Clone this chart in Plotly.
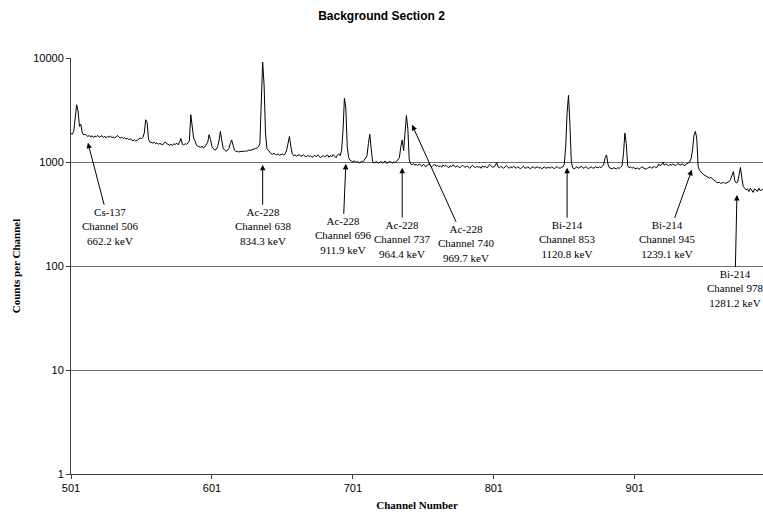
import plotly.graph_objects as go
import math

# ---- data ----
start_channel = 501
counts = [
    # 501-510
    1880, 1850, 2000, 2900, 3550, 3100, 2200, 2300, 1900, 1820,
    # 511-520
    1850, 1800, 1760, 1800, 1740, 1790, 1720, 1780, 1750, 1800,
    # 521-530
    1730, 1760, 1790, 1720, 1770, 1700, 1760, 1730, 1780, 1710,
    # 531-540
    1740, 1700, 1760, 1800, 1730, 1700, 1740, 1680, 1710, 1660,
    # 541-550
    1690, 1640, 1670, 1620, 1600, 1640, 1590, 1620, 1660, 1700,
    # 551-560
    1680, 1720, 1900, 2550, 2400, 1650, 1560, 1540, 1520, 1550,
    # 561-570
    1500, 1530, 1480, 1510, 1490, 1460, 1520, 1560, 1500, 1470,
    # 571-580
    1450, 1480, 1440, 1500, 1470, 1520, 1460, 1560, 1680, 1480,
    # 581-590
    1460, 1500, 1480, 1520, 1600, 2850, 2300, 1700, 1600, 1450,
    # 591-600
    1420, 1400, 1380, 1420, 1360, 1400, 1460, 1550, 1830, 1650,
    # 601-610
    1400, 1340, 1300, 1320, 1400, 1600, 1970, 1600, 1350, 1300,
    # 611-620
    1270, 1290, 1350, 1500, 1630, 1450, 1300, 1260, 1270, 1250,
    # 621-630
    1260, 1250, 1270, 1260, 1280, 1270, 1300, 1290, 1310, 1320,
    # 631-640
    1330, 1350, 1360, 1400, 1500, 3500, 9150, 5500, 1900, 1350,
    # 641-650
    1300, 1230, 1200, 1190, 1210, 1180, 1170, 1200, 1160, 1180,
    # 651-660
    1190, 1170, 1200, 1300, 1550, 1760, 1400, 1200, 1150, 1170,
    # 661-670
    1140, 1160, 1180, 1130, 1150, 1170, 1140, 1120, 1160, 1130,
    # 671-680
    1150, 1110, 1130, 1160, 1120, 1170, 1140, 1100, 1130, 1150,
    # 681-690
    1120, 1140, 1170, 1110, 1150, 1120, 1180, 1140, 1100, 1160,
    # 691-700
    1200, 1150, 1300, 2000, 4100, 3300, 1400, 1100, 1040, 1020,
    # 701-710
    1000, 1030, 990, 1010, 1000, 980, 1020, 1000, 1040, 1080,
    # 711-720
    1150, 1500, 1850, 1350, 1000, 980, 1000, 1010, 970, 990,
    # 721-730
    1010, 980, 1000, 1020, 970, 990, 1010, 1000, 975, 1000,
    # 731-740
    990, 1010, 1050, 1100, 1400, 1630, 1280, 1800, 2800, 2100,
    # 741-750
    1050, 960, 940, 970, 930, 950, 920, 960, 940, 910,
    # 751-760
    950, 930, 900, 940, 960, 920, 900, 930, 950, 910,
    # 761-770
    930, 900, 920, 890, 940, 910, 930, 900, 880, 920,
    # 771-780
    900, 940, 910, 890, 920, 900, 880, 910, 930, 900,
    # 781-790
    890, 920, 900, 870, 910, 930, 900, 880, 910, 890,
    # 791-800
    900, 870, 920, 890, 910, 880, 900, 950, 920, 890,
    # 801-810
    900, 920, 990, 900, 880, 910, 890, 870, 900, 920,
    # 811-820
    890, 870, 900, 880, 910, 890, 870, 900, 880, 860,
    # 821-830
    890, 910, 880, 870, 900, 880, 860, 890, 900, 870,
    # 831-840
    880, 900, 870, 890, 860, 880, 900, 870, 880, 890,
    # 841-850
    870, 900, 880, 860, 890, 900, 880, 870, 890, 900,
    # 851-860
    950, 1400, 3000, 4370, 2300, 1000, 880, 860, 880, 900,
    # 861-870
    870, 890, 910, 880, 870, 900, 890, 860, 880, 900,
    # 871-880
    880, 870, 900, 890, 880, 900, 880, 910, 950, 1100,
    # 881-890
    1170, 950, 880, 870, 860, 880, 870, 860, 880, 870,
    # 891-900
    890, 920, 1200, 1900, 1500, 920, 880, 900, 870, 890,
    # 901-910
    870, 860, 880, 850, 870, 900, 880, 860, 850, 870,
    # 911-920
    880, 900, 870, 890, 910, 880, 900, 960, 920, 940,
    # 921-930
    1000, 930, 960, 940, 920, 950, 930, 960, 940, 920,
    # 931-940
    950, 970, 930, 940, 960, 920, 940, 950, 970, 1000,
    # 941-950
    1080, 1300, 1800, 1970, 1700, 900, 830, 800, 770, 750,
    # 951-960
    740, 730, 720, 700, 710, 690, 670, 650, 640, 630,
    # 961-970
    640, 620, 630, 640, 620, 630, 640, 650, 680, 760,
    # 971-980
    810, 660, 630, 640, 760, 885, 700, 580, 560, 540,
    # 981-992
    550, 520, 560, 530, 510, 550, 540, 520, 560, 530, 540, 550,
]
channels = list(range(start_channel, start_channel + len(counts)))

x_tick_values = [501, 601, 701, 801, 901]
x_tick_labels = ["501", "601", "701", "801", "901"]
y_tick_values = [1, 10, 100, 1000, 10000]
y_tick_labels = ["1", "10", "100", "1000", "10000"]

# peak labels
peak_texts = [
    "Cs-137<br>Channel 506<br>662.2 keV",
    "Ac-228<br>Channel 638<br>834.3 keV",
    "Ac-228<br>Channel 696<br>911.9 keV",
    "Ac-228<br>Channel 737<br>964.4 keV",
    "Ac-228<br>Channel 740<br>969.7 keV",
    "Bi-214<br>Channel 853<br>1120.8 keV",
    "Bi-214<br>Channel 945<br>1239.1 keV",
    "Bi-214<br>Channel 978<br>1281.2 keV",
]
peak_tip_channel = [513, 637, 696, 736, 743, 853, 941.5, 973.5]
peak_tip_counts = [1530, 940, 960, 880, 2275, 880, 840, 482]
peak_text_dx = [22, 0, -3, 0, 54, 0, -25, -2]
peak_text_dy = [84, 62, 72, 72, 119, 72, 70, 94]

fig = go.Figure()
fig.add_trace(go.Scatter(
    x=channels, y=counts, mode="lines",
    line=dict(color="#000000", width=1),
    hoverinfo="x+y", showlegend=False,
))

for t, cx, cy, dx, dy in zip(peak_texts, peak_tip_channel, peak_tip_counts, peak_text_dx, peak_text_dy):
    fig.add_annotation(
        x=cx, y=math.log10(cy), xref="x", yref="y",
        text=t, showarrow=True, ax=dx, ay=dy,
        arrowhead=2, arrowsize=1.1, arrowwidth=1, arrowcolor="#000000",
        font=dict(family="Liberation Serif, Times New Roman, serif", size=11, color="#000000"),
        align="center", borderpad=1,
    )

fig.update_layout(
    width=763, height=518,
    margin=dict(l=71, r=0, t=58, b=44),
    paper_bgcolor="#ffffff", plot_bgcolor="#ffffff",
    title=dict(
        text="<b>Background Section 2</b>",
        x=0.5, xanchor="center", y=1 - 16 / 518, yanchor="middle",
        font=dict(family="Liberation Sans, Arial, sans-serif", size=12, color="#000000"),
    ),
    font=dict(family="Liberation Sans, Arial, sans-serif", size=11, color="#000000"),
)

fig.update_xaxes(
    range=[501, 992], tickvals=x_tick_values, ticktext=x_tick_labels,
    ticks="outside", ticklen=4, tickcolor="#404040",
    showgrid=False, zeroline=False,
    showline=True, linecolor="#404040", linewidth=1,
    tickfont=dict(family="Liberation Sans, Arial, sans-serif", size=11, color="#000000"),
    title=dict(text="<b>Channel Number</b>", standoff=8,
               font=dict(family="Liberation Serif, Times New Roman, serif", size=11, color="#000000")),
    automargin=False,
)
fig.update_yaxes(
    type="log", range=[0, 4], tickvals=y_tick_values, ticktext=y_tick_labels,
    ticks="outside", ticklen=4, tickcolor="#404040",
    showgrid=True, gridcolor="#707070", gridwidth=1,
    zeroline=False, showline=True, linecolor="#404040", linewidth=1,
    tickfont=dict(family="Liberation Sans, Arial, sans-serif", size=11, color="#000000"),
    title=dict(text="<b>Counts per Channel</b>", standoff=10,
               font=dict(family="Liberation Serif, Times New Roman, serif", size=11, color="#000000")),
    automargin=False,
)

fig.write_html("out.html")
